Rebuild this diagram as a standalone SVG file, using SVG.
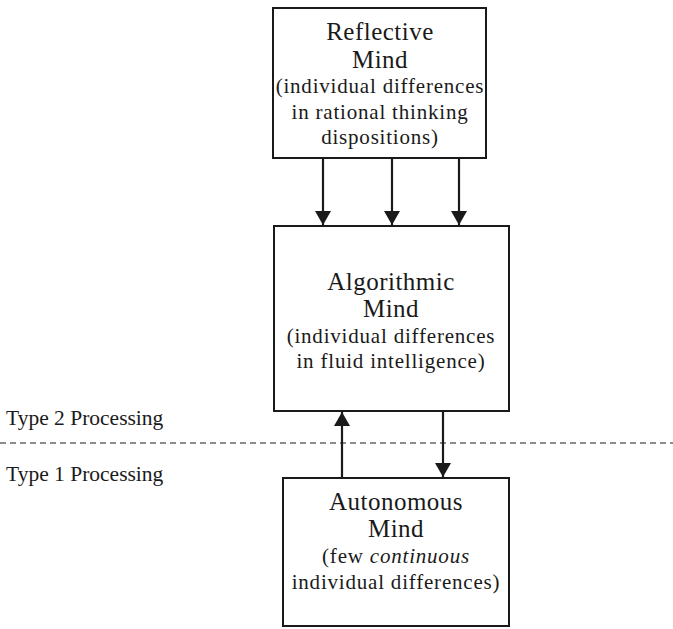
<svg xmlns="http://www.w3.org/2000/svg" width="673" height="629" viewBox="0 0 673 629">
<defs>
<style>
.box{fill:#fff;stroke:#1a1a1a;stroke-width:2}
.t{font-family:"Liberation Serif","Times New Roman",serif;fill:#1a1a1a;text-anchor:middle}
.h{font-size:25px;letter-spacing:0.5px}
.s{font-size:21px;letter-spacing:0.8px}
.lab{font-family:"Liberation Serif","Times New Roman",serif;fill:#1a1a1a;font-size:21.5px}
.c{stroke:#1a1a1a;stroke-width:2.2;fill:none}
</style>
<marker id="ah" viewBox="0 0 14 16" refX="14" refY="8" markerWidth="14" markerHeight="16" markerUnits="userSpaceOnUse" orient="auto">
<path d="M0,0 L14,8 L0,16 Z" fill="#1a1a1a"/>
</marker>
</defs>
<g id="reflective">
<rect class="box" x="273" y="8" width="213" height="150"/>
<text class="t h" x="380" y="40">Reflective</text>
<text class="t h" x="380" y="68">Mind</text>
<text class="t s" x="380" y="93">(individual differences</text>
<text class="t s" x="380" y="119">in rational thinking</text>
<text class="t s" x="380" y="144">dispositions)</text>
</g>
<g id="algorithmic">
<rect class="box" x="274" y="226" width="235" height="185"/>
<text class="t h" x="391" y="290">Algorithmic</text>
<text class="t h" x="391" y="317">Mind</text>
<text class="t s" x="391" y="343">(individual differences</text>
<text class="t s" x="391" y="368">in fluid intelligence)</text>
</g>
<g id="autonomous">
<rect class="box" x="283" y="478" width="226" height="148"/>
<text class="t h" x="396" y="510">Autonomous</text>
<text class="t h" x="396" y="537">Mind</text>
<text class="t s" x="396" y="563">(few <tspan font-style="italic">continuous</tspan></text>
<text class="t s" x="396" y="589">individual differences)</text>
</g>
<g id="labels">
<text class="lab" x="6" y="425">Type 2 Processing</text>
<text class="lab" x="6" y="481">Type 1 Processing</text>
</g>
<g id="connectors">
<line x1="0" y1="443" x2="673" y2="443" stroke="#1a1a1a" stroke-width="1.2" stroke-dasharray="6,4"/>
<line class="c" x1="323" y1="158" x2="323" y2="225" marker-end="url(#ah)"/>
<line class="c" x1="392" y1="158" x2="392" y2="225" marker-end="url(#ah)"/>
<line class="c" x1="459" y1="158" x2="459" y2="225" marker-end="url(#ah)"/>
<line class="c" x1="342" y1="478" x2="342" y2="412" marker-end="url(#ah)"/>
<line class="c" x1="443" y1="411" x2="443" y2="477" marker-end="url(#ah)"/>
</g>
</svg>
